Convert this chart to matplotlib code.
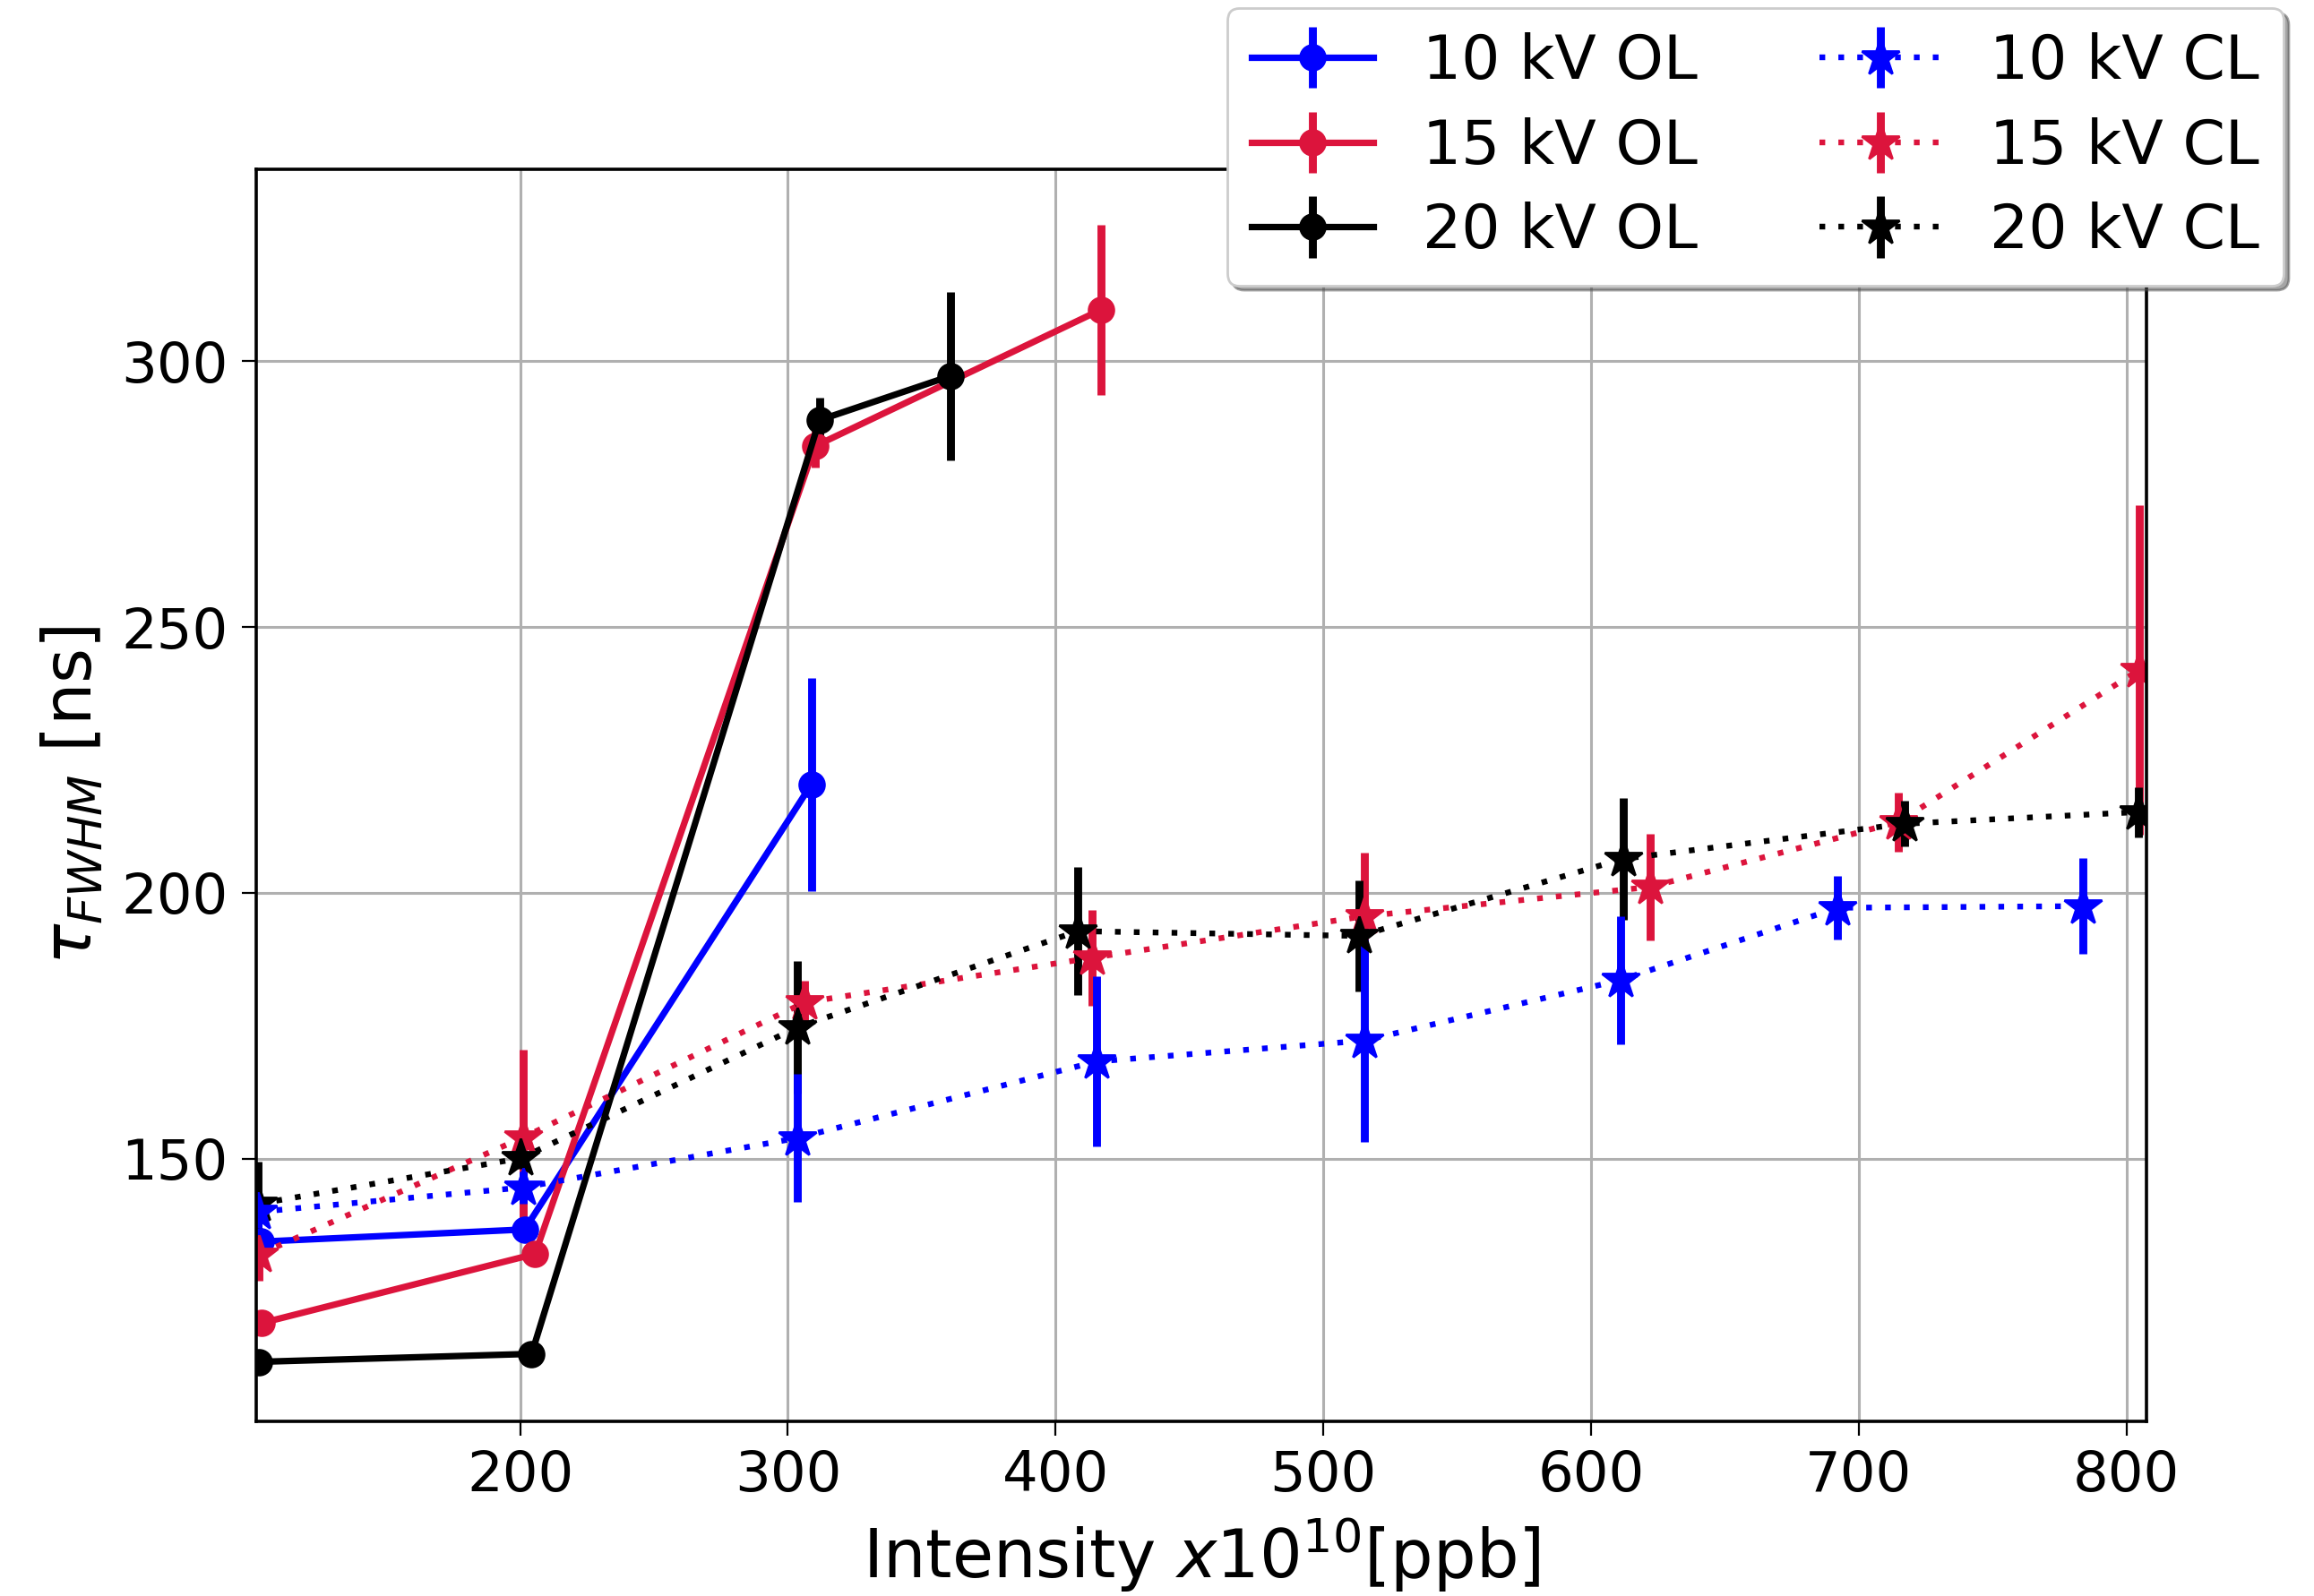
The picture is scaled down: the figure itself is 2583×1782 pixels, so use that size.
import matplotlib
matplotlib.use("Agg")
import matplotlib.pyplot as plt

# ---- data ----
x_10_ol = [103.0, 201.7, 308.8]
y_10_ol = [134.4, 136.7, 220.4]
e_10_ol = [2.0, 2.0, 20.0]

x_15_ol = [103.5, 205.6, 310.1, 417.1]
y_15_ol = [119.1, 132.1, 284.0, 309.7]
e_15_ol = [2.0, 2.0, 4.0, 16.0]

x_20_ol = [102.5, 204.3, 311.8, 360.7]
y_20_ol = [111.8, 113.3, 288.9, 297.2]
e_20_ol = [1.5, 1.5, 4.3, 15.8]

x_10_cl = [102.0, 201.1, 303.6, 415.4, 515.2, 611.0, 692.2, 783.6]
y_10_cl = [140.0, 144.6, 153.9, 168.3, 172.2, 183.6, 197.2, 197.5]
e_10_cl = [3.0, 3.0, 12.0, 16.0, 19.0, 12.0, 6.0, 9.0]

x_15_cl = [102.5, 201.1, 306.3, 413.8, 515.2, 622.0, 714.7, 804.7]
y_15_cl = [132.0, 154.0, 179.4, 187.8, 195.6, 201.1, 213.3, 241.9]
e_15_cl = [5.0, 16.5, 4.0, 9.0, 12.0, 10.0, 5.5, 31.0]

x_20_cl = [102.0, 200.3, 303.6, 408.3, 513.5, 612.0, 717.3, 804.5]
y_20_cl = [141.5, 150.1, 174.7, 192.8, 191.9, 206.4, 213.0, 215.2]
e_20_cl = [8.0, 2.0, 12.5, 12.0, 10.5, 11.5, 4.3, 4.7]

x_ticks = [200, 300, 400, 500, 600, 700, 800]
y_ticks = [150, 200, 250, 300]

plt.rcParams['font.family'] = ['DejaVu Sans']

fig = plt.figure(figsize=(12.915, 8.91), dpi=200)
ax = fig.add_axes([0.1107, 0.1094, 0.8169, 0.7846])

ol_kw = dict(fmt='-o', lw=2.6, elinewidth=3.2, ms=10, capsize=0)
cl_kw = dict(fmt='*', ls=(0, (1, 2.3)), lw=2.3, elinewidth=3.2, ms=16, capsize=0)

h1 = ax.errorbar(x_10_ol, y_10_ol, yerr=e_10_ol, color='blue', label='10 kV OL', **ol_kw)
h2 = ax.errorbar(x_15_ol, y_15_ol, yerr=e_15_ol, color='crimson', label='15 kV OL', **ol_kw)
h3 = ax.errorbar(x_20_ol, y_20_ol, yerr=e_20_ol, color='black', label='20 kV OL', **ol_kw)
h5 = ax.errorbar(x_15_cl, y_15_cl, yerr=e_15_cl, color='crimson', label='15 kV CL', **cl_kw)
h6 = ax.errorbar(x_20_cl, y_20_cl, yerr=e_20_cl, color='black', label='20 kV CL', **cl_kw)
h4 = ax.errorbar(x_10_cl, y_10_cl, yerr=e_10_cl, color='blue', label='10 kV CL', **cl_kw)

ax.set_xlim(101.4, 807.5)
ax.set_ylim(100.6, 336.1)
ax.set_xticks(x_ticks)
ax.set_yticks(y_ticks)
ax.tick_params(labelsize=22.5, length=5.8, width=0.8, pad=5.5)
ax.grid(True, color='#b0b0b0', lw=1.1)
for s in ax.spines.values():
    s.set_linewidth(1.3)

ax.set_xlabel(r'Intensity $x10^{10}$[ppb]', fontsize=27, labelpad=5)
ax.set_ylabel(r'$\tau_{FWHM}$ [ns]', fontsize=27, labelpad=6)

ax.legend([h1, h2, h3, h4, h5, h6],
          ['10 kV OL', '15 kV OL', '20 kV OL', '10 kV CL', '15 kV CL', '20 kV CL'],
          loc='upper right', bbox_to_anchor=(0.987, 0.995),
          bbox_transform=fig.transFigure, ncol=2, fontsize=24.5,
          borderaxespad=0, shadow=True, labelspacing=0.42, framealpha=1,
          columnspacing=2.0)

fig.savefig('out.png', dpi=200)
